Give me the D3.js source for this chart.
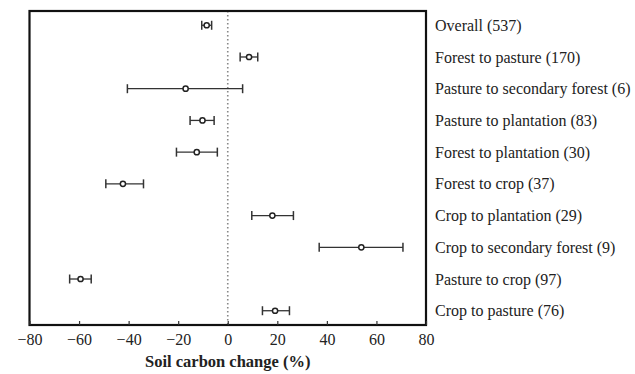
<!DOCTYPE html>
<html>
<head>
<meta charset="utf-8">
<script src="https://cdn.jsdelivr.net/npm/d3@7"></script>
<style>
  html, body { margin: 0; padding: 0; background: #fff; }
  svg { display: block; }
  text { font-family: "Liberation Serif", "Times New Roman", serif; fill: #222; }
</style>
</head>
<body>
<svg id="chart" width="635" height="374"></svg>
<script>
// Land-use transitions with number of observations
const categories = [
  "Overall (537)",
  "Forest to pasture (170)",
  "Pasture to secondary forest (6)",
  "Pasture to plantation (83)",
  "Forest to plantation (30)",
  "Forest to crop (37)",
  "Crop to plantation (29)",
  "Crop to secondary forest (9)",
  "Pasture to crop (97)",
  "Crop to pasture (76)"
];
// Mean soil carbon change (%) and 95% confidence limits
const meanChange = [-8.5, 8.6, -17, -10.2, -12.5, -42.3, 18, 53.9, -59.4, 19.1];
const lowerCI    = [-10.5, 5.0, -40.5, -15.2, -20.7, -49.2, 9.7, 36.9, -63.8, 14.0];
const upperCI    = [-6.5, 12.1, 6.0, -5.5, -4.2, -34.0, 26.5, 70.7, -55.1, 24.9];
const xTicks = [-80, -60, -40, -20, 0, 20, 40, 60, 80];

const svg = d3.select("#chart");
const plotL = 29.5, plotR = 426, plotT = 11, plotB = 325;

const x = d3.scaleLinear().domain([-80, 80]).range([plotL, plotR]);
const y = d3.scalePoint().domain(categories).range([plotT, plotB]).padding(0.45);

// reference line at zero
svg.append("line")
  .attr("x1", x(0)).attr("x2", x(0))
  .attr("y1", plotT).attr("y2", plotB)
  .attr("stroke", "#888").attr("stroke-width", 1.6)
  .attr("stroke-dasharray", "1.6,2.4");

// confidence intervals
const rows = categories.map((c, i) => ({ c, m: meanChange[i], lo: lowerCI[i], hi: upperCI[i] }));
const g = svg.append("g");
const capH = 4.5;
const row = g.selectAll("g.row").data(rows).join("g").attr("class", "row");
row.append("line")
  .attr("x1", d => x(d.lo)).attr("x2", d => x(d.hi))
  .attr("y1", d => y(d.c)).attr("y2", d => y(d.c))
  .attr("stroke", "#333").attr("stroke-width", 1.3);
row.append("line")
  .attr("x1", d => x(d.lo)).attr("x2", d => x(d.lo))
  .attr("y1", d => y(d.c) - capH).attr("y2", d => y(d.c) + capH)
  .attr("stroke", "#333").attr("stroke-width", 1.5);
row.append("line")
  .attr("x1", d => x(d.hi)).attr("x2", d => x(d.hi))
  .attr("y1", d => y(d.c) - capH).attr("y2", d => y(d.c) + capH)
  .attr("stroke", "#333").attr("stroke-width", 1.5);
row.append("circle")
  .attr("cx", d => x(d.m)).attr("cy", d => y(d.c)).attr("r", 2.6)
  .attr("fill", "#fff").attr("stroke", "#222").attr("stroke-width", 1.5);

// frame
svg.append("rect")
  .attr("x", plotL).attr("y", plotT)
  .attr("width", plotR - plotL).attr("height", plotB - plotT)
  .attr("fill", "none").attr("stroke", "#111").attr("stroke-width", 2.2);

// bottom axis with inward ticks
const axis = svg.append("g").attr("transform", `translate(0,${plotB})`)
  .call(d3.axisBottom(x).tickValues(xTicks).tickSizeInner(-4).tickSizeOuter(0)
        .tickFormat(d => d < 0 ? "\u2212" + Math.abs(d) : d));
axis.select(".domain").remove();
axis.selectAll(".tick line").attr("stroke", "#333").attr("stroke-width", 1.2);
axis.selectAll(".tick text")
  .attr("y", 9).attr("dy", "0.71em")
  .style("font-size", "16px")
  .style("font-family", "'Liberation Serif', serif")
  .attr("fill", "#333");

// row labels on the right
svg.append("g").selectAll("text").data(categories).join("text")
  .attr("x", 435).attr("y", d => y(d)).attr("dy", "0.35em")
  .style("font-size", "16px")
  .attr("fill", "#333")
  .text(d => d);

// axis title
svg.append("text")
  .attr("x", x(0)).attr("y", 367)
  .attr("text-anchor", "middle")
  .style("font-size", "16.5px").style("font-weight", "bold")
  .text("Soil carbon change (%)");
</script>
</body>
</html>
